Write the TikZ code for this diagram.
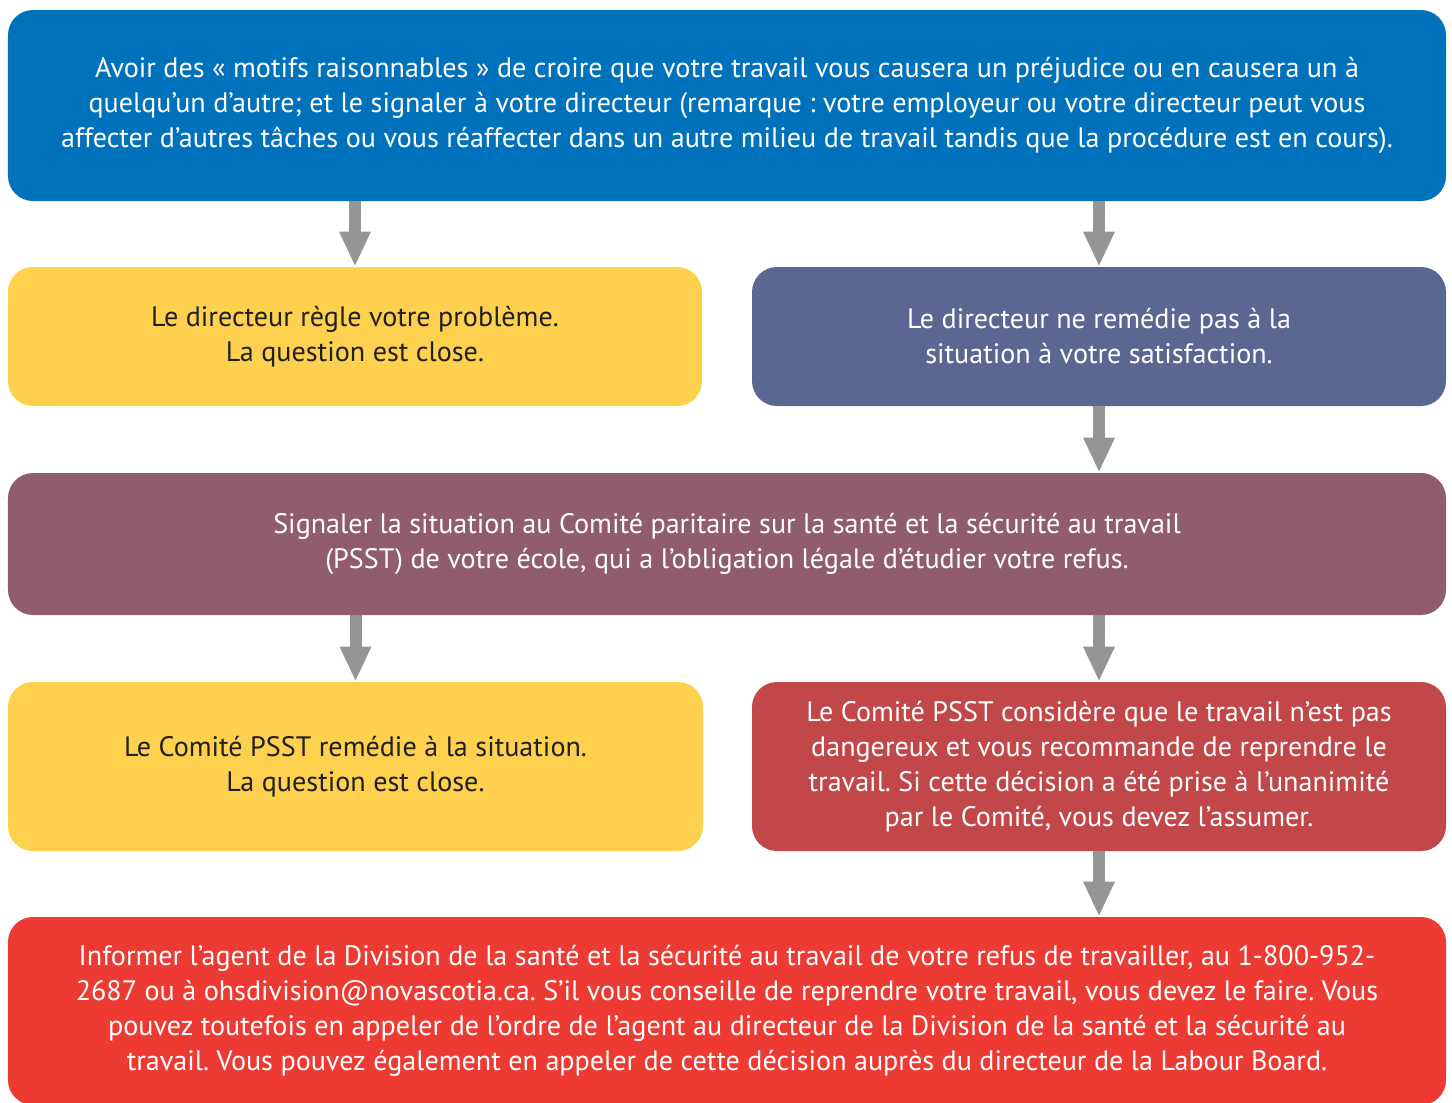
\documentclass[tikz,border=0pt]{standalone}
\usepackage{fontspec}
\setmainfont{PT Sans}
\usetikzlibrary{arrows.meta}
\definecolor{bleu}{HTML}{0071BB}
\definecolor{jaune}{HTML}{FDD04E}
\definecolor{ardoise}{HTML}{5A6792}
\definecolor{mauve}{HTML}{915D6E}
\definecolor{brique}{HTML}{C14749}
\definecolor{rouge}{HTML}{ED3A32}
\definecolor{fleche}{HTML}{959595}
\definecolor{encre}{HTML}{231F20}
\frenchspacing

\tikzset{
  boite/.style={rounded corners=0.5cm, inner sep=0pt, align=center,
    font=\fontsize{16}{19.9}\selectfont, text=white,
    execute at begin node={\rule{0pt}{19pt}}},
  large/.style={boite, minimum width=28.76cm},
  demi/.style={boite, minimum width=13.88cm},
  fl/.style={draw=fleche, line width=0.24cm,
    -{Triangle[width=0.58cm,length=0.7cm]}, shorten >=0pt}
}

\begin{document}
\begin{tikzpicture}
\useasboundingbox (0,0) rectangle (29.04,-22.04);

\node[large, fill=bleu, minimum height=3.82cm] (refus) at (14.54,-2.11)
  {Avoir des « motifs raisonnables » de croire que votre travail vous causera un préjudice ou en causera un à\\
   quelqu’un d’autre; et le signaler à votre directeur (remarque : votre employeur ou votre directeur peut vous\\
   affecter d’autres tâches ou vous réaffecter dans un autre milieu de travail tandis que la procédure est en cours).};

\node[demi, fill=jaune, text=encre, minimum height=2.78cm] (regle) at (7.10,-6.73)
  {Le directeur règle votre problème.\\ La question est close.};
\node[demi, fill=ardoise, minimum height=2.78cm] (nonregle) at (21.98,-6.73)
  {Le directeur ne remédie pas à la\\ situation à votre satisfaction.};

\node[large, fill=mauve, minimum height=2.84cm] (comite) at (14.54,-10.88)
  {Signaler la situation au Comité paritaire sur la santé et la sécurité au travail\\
   (PSST) de votre école, qui a l’obligation légale d’étudier votre refus.};

\node[demi, fill=jaune, text=encre, minimum height=3.38cm, minimum width=13.90cm] (remedie) at (7.11,-15.33)
  {Le Comité PSST remédie à la situation.\\ La question est close.};
\node[demi, fill=brique, minimum height=3.38cm] (danger) at (21.98,-15.33)
  {Le Comité PSST considère que le travail n’est pas\\
   dangereux et vous recommande de reprendre le\\
   travail. Si cette décision a été prise à l’unanimité\\
   par le Comité, vous devez l’assumer.};

\node[large, fill=rouge, minimum height=3.76cm] (agent) at (14.54,-20.22)
  {Informer l’agent de la Division de la santé et la sécurité au travail de votre refus de travailler, au 1-800-952-\\
   2687 ou à ohsdivision@novascotia.ca. S’il vous conseille de reprendre votre travail, vous devez le faire. Vous\\
   pouvez toutefois en appeler de l’ordre de l’agent au directeur de la Division de la santé et la sécurité au\\
   travail. Vous pouvez également en appeler de cette décision auprès du directeur de la Labour Board.};

% fleches
\draw[fl] (regle.north |- refus.south) -- (regle.north);
\draw[fl] (nonregle.north |- refus.south) -- (nonregle.north);
\draw[fl] (nonregle.south) -- (nonregle.south |- comite.north);
\draw[fl] (remedie.north |- comite.south) -- (remedie.north);
\draw[fl] (danger.north |- comite.south) -- (danger.north);
\draw[fl] (danger.south) -- (danger.south |- agent.north);
\end{tikzpicture}
\end{document}
